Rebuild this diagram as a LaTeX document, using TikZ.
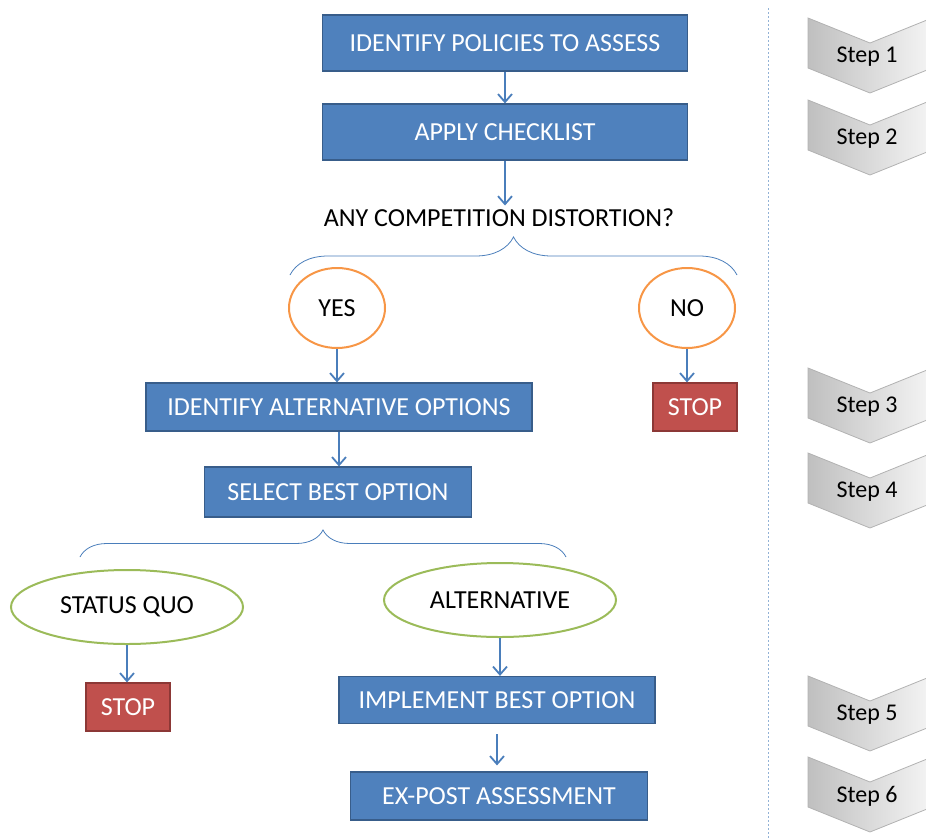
\documentclass[tikz,border=0pt]{standalone}
\usepackage{fontspec}
\setmainfont{Carlito}
\usetikzlibrary{calc, arrows.meta, shapes.geometric, decorations.pathreplacing}
\definecolor{boxblue}{HTML}{4F81BD}
\definecolor{boxline}{HTML}{385D8A}
\definecolor{stopred}{HTML}{C0504D}
\definecolor{stopline}{HTML}{8C3836}
\definecolor{yesno}{HTML}{F79646}
\definecolor{choicegreen}{HTML}{9BBB59}
\definecolor{arrowblue}{HTML}{4A7EBB}

\begin{document}
\begin{tikzpicture}[
        x=1pt, y=-1pt,
        every node/.style={font=\fontsize{26}{30}\selectfont},
        box/.style={draw=boxline, line width=1.2pt, fill=boxblue, text=white, minimum height=56pt, inner sep=2pt},
        stopbox/.style={box, fill=stopred, draw=stopline, minimum width=84pt, minimum height=48pt},
        answer/.style={ellipse, draw=yesno, line width=2pt, minimum width=96pt, minimum height=80pt},
        choice/.style={ellipse, draw=choicegreen, line width=2pt, minimum width=232pt, minimum height=74pt},
        flow/.style={draw=arrowblue, line width=1.8pt, -{Straight Barb[length=8pt,width=14pt]}},
        splitter/.style={draw=arrowblue, line width=0.8pt, decorate, decoration={brace, amplitude=#1}},
        divider/.style={draw=arrowblue!60, line width=0.8pt, dash pattern=on 2pt off 2pt},
        stepmark/.style={draw=gray!60, line width=0.8pt, left color=gray!50, right color=gray!8},
        steplabel/.style={font=\fontsize{24}{28}\selectfont}
    ]
        \useasboundingbox (0,0) rectangle (926,838);
        \clip (0,0) rectangle (926,838);

        % Nodes
        \node[box, minimum width=365pt] (identify) at (505,43) {IDENTIFY POLICIES TO ASSESS};
        \node[box, minimum width=365pt] (checklist) at (505,132) {APPLY CHECKLIST};
        \node (question) at (499,218) {ANY COMPETITION DISTORTION?};
        \node[answer] (yes) at (337,308) {YES};
        \node[answer] (no) at (687,308) {NO};
        \node[box, minimum width=386pt, minimum height=48pt] (alternatives) at (339,407) {IDENTIFY ALTERNATIVE OPTIONS};
        \node[stopbox] (stopno) at (695,407) {STOP};
        \node[box, minimum width=267pt, minimum height=50pt] (select) at (338,492) {SELECT BEST OPTION};
        \node[choice] (statusquo) at (127,607) {STATUS QUO};
        \node[choice] (alternative) at (500,600) {ALTERNATIVE};
        \node[stopbox] (stopquo) at (128,707) {STOP};
        \node[box, minimum width=316pt, minimum height=47pt] (implement) at (497,700) {IMPLEMENT BEST OPTION};
        \node[box, minimum width=297pt, minimum height=48pt] (expost) at (499,796) {EX-POST ASSESSMENT};

        % Braces
        \coordinate (qleft) at (290,275);
        \coordinate (qright) at (737,275);
        \coordinate (sleft) at (80,557);
        \coordinate (sright) at (566,557);
        \draw[splitter=38pt] (qleft) -- (qright);
        \draw[splitter=27pt] (sleft) -- (sright);

        % Arrows
        \draw[flow] (identify) -- (checklist);
        \draw[flow] (checklist.south) -- (checklist.south |- question.north);
        \draw[flow] (yes.south) -- (yes.south |- alternatives.north);
        \draw[flow] (no.south) -- (no.south |- stopno.north);
        \draw[flow] (alternatives.south) -- (alternatives.south |- select.north);
        \draw[flow] (statusquo.south) -- (statusquo.south |- stopquo.north);
        \draw[flow] (alternative.south) -- (alternative.south |- implement.north);
        \draw[flow, shorten <=10pt, shorten >=6pt] (implement.south) -- (implement.south |- expost.north);

        % Steps column
        \coordinate (divtop) at (768,8);
        \coordinate (divbot) at (768,838);
        \draw[divider] (divtop) -- (divbot);
        \foreach \t/\n in {18/1,100/2,368/3,453/4,676/5,757/6}{
            \path[stepmark] (808,\t) -- ++(62,25) -- ++(62,-25) -- ++(0,50) -- ++(-62,25) -- ++(-62,-25) -- cycle;
            \node[steplabel] (step\n) at (867,\t+39) {Step \n};
        }
    \end{tikzpicture}
\end{document}
